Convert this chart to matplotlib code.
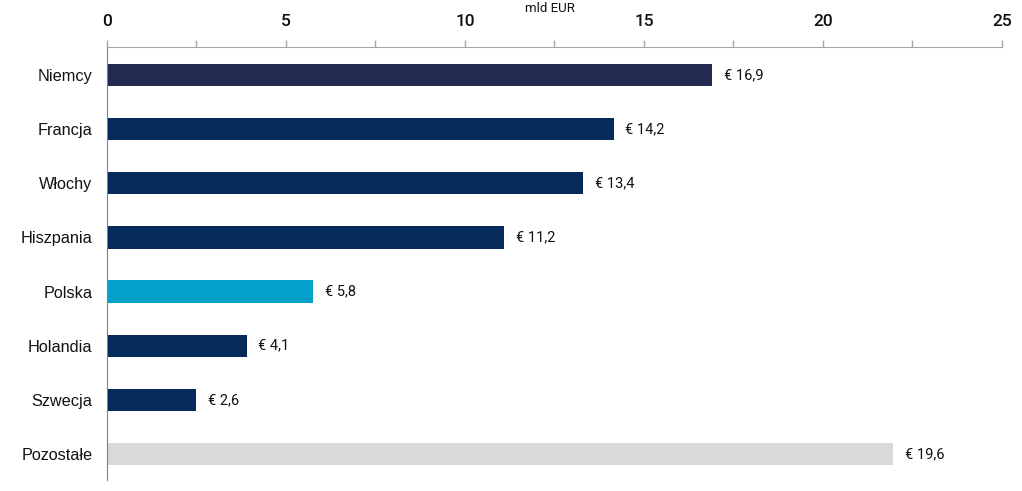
import matplotlib
matplotlib.use("Agg")
import matplotlib.pyplot as plt
from matplotlib.ticker import MultipleLocator

categories = ["Niemcy", "Francja", "Włochy", "Hiszpania", "Polska", "Holandia", "Szwecja", "Pozostałe"]
# bar lengths as drawn in the picture (mld EUR)
values = [16.9, 14.15, 13.3, 11.1, 5.75, 3.9, 2.5, 21.95]
labels = ["€ 16,9", "€ 14,2", "€ 13,4", "€ 11,2", "€ 5,8", "€ 4,1", "€ 2,6", "€ 19,6"]
colors = ["#232a52", "#062a5c", "#062a5c", "#062a5c", "#03a0c9", "#062a5c", "#062a5c", "#d9d9d9"]
xticks = [0, 5, 10, 15, 20, 25]

fig = plt.figure(figsize=(10.22, 4.91), dpi=100)
ax = fig.add_axes([0.1047, 0.0224, 0.8757, 0.8819])
y = list(range(len(categories)))
ax.barh(y, values, height=0.41, color=colors)
ax.set_ylim(7.48, -0.517)
ax.set_xlim(0, 25)
for yi, v, lab in zip(y, values, labels):
    ax.text(v + 0.33, yi, lab, va="center", ha="left", fontsize=10.5, family="Roboto", color="#111111")

ax.xaxis.tick_top()
ax.set_xticks(xticks)
ax.xaxis.set_minor_locator(MultipleLocator(2.5))
ax.tick_params(axis="x", which="both", direction="out", length=5, width=1, color="#a6a6a6", pad=8,
               labelsize=12.5, labelcolor="#111111")
for t in ax.get_xticklabels():
    t.set_family("Roboto")
    t.set_fontweight("medium")
ax.tick_params(axis="y", length=0, pad=10.5, labelsize=11.7, labelcolor="#111111")
ax.set_yticks(y)
ax.set_yticklabels(categories, family="Liberation Sans")
for s in ["right", "bottom"]:
    ax.spines[s].set_visible(False)
ax.spines["top"].set_color("#a6a6a6")
ax.spines["left"].set_color("#808080")
fig.text(550 / 1022, 1 - 8 / 491, "mld EUR", ha="center", va="center", fontsize=9.5, family="Roboto", color="#111111")
fig.savefig("out.png", dpi=100)
